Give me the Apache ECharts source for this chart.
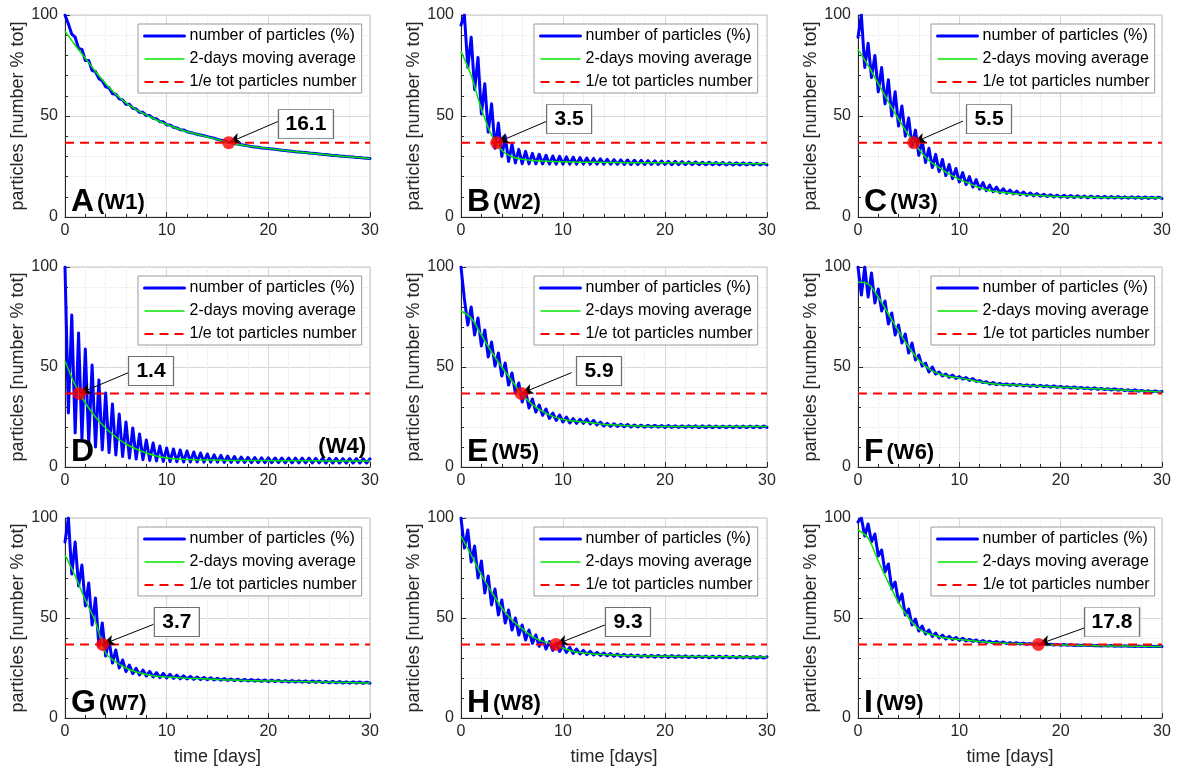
<!DOCTYPE html>
<html><head><meta charset="utf-8">
<script src="https://cdn.jsdelivr.net/npm/echarts@6/dist/echarts.min.js"></script>
<style>html,body{margin:0;padding:0;background:#fff}#c{width:1177px;height:771px}</style>
</head><body><div id="c"></div>
<script>
// ---------------- DATA ----------------
const seriesNames = ['number of particles (%)', '2-days moving average', '1/e tot particles number'];
const panelLetters = ['A','B','C','D','E','F','G','H','I'];
const wellLabels = ['(W1)','(W2)','(W3)','(W4)','(W5)','(W6)','(W7)','(W8)','(W9)'];
const eFoldingDay = [16.1, 3.5, 5.5, 1.4, 5.9, null, 3.7, 9.3, 17.8];
const oneOverE = [36.79];
const xTicks = [0, 10, 20, 30];
const yTicks = [0, 50, 100];

// number of particles (%), sampled every 1/3 day from day 0 to day 30 (one row per day)
const blueA = [
100,95.5,90.5, 89,83.5,83, 77.5,77.5,72.5, 72,68.5,67.5, 64.5,64,61, 60.8,58.5,58,
55.8,55.8,53.8, 53.5,51.8,51.8, 50.2,50.2,48.8, 48.6,47.2,47.1, 45.6,45.6,44.4, 44.1,43.2,43.1,
42.2,41.8,41.4, 41,40.6,40.2, 39.8,39.4,39, 38.4,38,37.6, 37.1,36.8,36.4, 36.1,35.8,35.5,
35.2,34.9,34.7, 34.5,34.2,34, 33.9,33.7,33.5, 33.3,33.1,32.9, 32.7,32.5,32.3, 32.2,32,31.9,
31.7,31.5,31.4, 31.2,31,30.9, 30.7,30.5,30.4, 30.2,30.1,29.9, 29.8,29.7,29.5, 29.4,29.2,29.1, 29];
const blueB = [
95,100,74, 89,63,79, 51,66,42, 56,34,46.5, 30,40,27.5, 36,26.8,33.5,
26.4,32.5,26.3, 31.5,26.3,31, 26.3,30.5,26.2, 30.2,26.2,30, 26.2,29.8,26.2, 29.6,26.2,29.4,
26.2,29.2,26.1, 29,26.1,28.8, 26.1,28.6,26.1, 28.4,26.1,28.3, 26,28.2,26, 28.1,26,28,
26,27.9,26, 27.8,26,27.7, 26,27.6,25.9, 27.5,25.9,27.4, 25.9,27.3,25.9, 27.2,25.9,27.1,
25.9,27.1,25.9, 27,25.8,27, 25.8,26.9,25.8, 26.8,25.8,26.8, 25.8,26.7,25.8, 26.6,25.8,26.6, 25.8];
const blueC = [
89,100,74, 86,69,80, 62,74,56, 68,50,62, 45,55,40, 49,35,43,
30.5,38,27, 34,24.5,31, 22.5,28.5,20.5, 26,19,24, 17.3,22,16, 20,14.8,18.5,
13.8,17,13, 15.8,12.5,14.8, 12,14,11.7, 13.3,11.4,12.8, 11,12.4,10.7, 11.9,10.5,11.6,
10.3,11.3,10.1, 11,9.9,10.8, 9.8,10.7,9.7, 10.6,9.6,10.5, 9.6,10.4,9.5, 10.3,9.5,10.2,
9.4,10.2,9.4, 10.1,9.4,10.1, 9.3,10,9.3, 10,9.3,9.9, 9.2,9.9,9.2, 9.8,9.2,9.8, 9.2];
const blueD = [
100,27,76, 17,67,14, 59,12,51, 10,43.5,8.5, 37,7.2,31.5, 6,26.5,5.2,
22.5,4.5,19.5, 4,16.5,3.6, 13.5,3.3,12, 3,10.5,2.8, 9.5,2.7,9, 2.6,8.5,2.5,
8,2.5,7.5, 2.5,7,2.4, 6.5,2.4,6.1, 2.4,5.8,2.3, 5.5,2.3,5.2, 2.3,5,2.3,
4.8,2.2,4.7, 2.2,4.6,2.2, 4.6,2.2,4.5, 2.2,4.5,2.1, 4.5,2.1,4.4, 2.1,4.4,2.1,
4.4,2.1,4.3, 2.1,4.3,2, 4.3,2,4.3, 2,4.2,2, 4.2,2,4.2, 2,4.1,2, 4.1];
const blueE = [
100,84,71, 80,66,74.5, 60.5,68.5,55, 62.5,50.5,57, 45.5,52,41, 47,37,42,
32.5,38,29.5, 34,27.5,31, 25.8,29,24.3, 27,23.3,26, 22.5,25,22, 24.2,21.8,23.8,
21.8,24,21.5, 23.3,21,22.5, 20.5,21.8,20.3, 21.6,20.3,21.4, 20.1,21.2,20, 21,20,20.9,
19.9,20.8,19.9, 20.8,19.9,20.7, 19.8,20.7,19.8, 20.6,19.8,20.6, 19.8,20.6,19.8, 20.6,19.7,20.6,
19.7,20.6,19.7, 20.5,19.7,20.5, 19.7,20.5,19.7, 20.5,19.7,20.5, 19.7,20.5,19.7, 20.5,19.7,20.5, 19.8];
const blueF = [
100,86,100, 85,97,82, 89,78,83, 71.5,77,66, 71,62,66.5, 57,62,53.5,
56,50.5,52, 47.5,50,46.5, 47.5,45.5,46.5, 44.8,46,44.3, 45.2,44,44.7, 43.3,44.2,42.8,
43.2,42.2,42.6, 41.5,42.2,41.2, 41.8,41,41.5, 40.8,41.5,40.7, 41.3,40.5,41.1, 40.3,41,40.2,
40.8,40.1,40.6, 39.9,40.6,39.8, 40.3,39.6,40.1, 39.4,40,39.3, 39.8,39.2,39.6, 38.9,39.6,38.8,
39.3,38.7,39.1, 38.5,39.1,38.4, 38.8,38.2,38.6, 38,38.6,37.9, 38.3,37.7,38.1, 37.5,38.1,37.4, 37.7];
const blueG = [
88,100,72, 88,66,76.5, 56,67.5,46.5, 60,36,47.5, 31,39,27.5, 34,25,29,
23.2,26.5,22.2, 24.8,21.5,24, 21,23.3,20.5, 22.7,20.2,22.3, 20,21.8,19.8, 21.4,19.6,21.1,
19.5,20.8,19.3, 20.5,19.2,20.3, 19.1,20.1,19, 19.9,18.9,19.7, 18.8,19.5,18.7, 19.4,18.6,19.3,
18.5,19.2,18.4, 19.1,18.3,19, 18.2,18.9,18.2, 18.8,18.1,18.7, 18,18.7,18, 18.6,17.9,18.5,
17.8,18.5,17.8, 18.4,17.7,18.3, 17.6,18.3,17.6, 18.2,17.5,18.1, 17.4,18.1,17.4, 18,17.3,17.9, 17.4];
const blueH = [
100,85,94, 78,86,70, 78.5,62.5,71, 56.5,64.5,51.5, 59,47.5,54, 44,50,41.5,
46.5,39,44, 37.3,41.5,35.8, 39.8,34.5,38.2, 33.8,37.5,33.3, 36.3,32.8,35.3, 32.3,34.5,32,
33.8,31.7,33.3, 31.5,32.8,31.3, 32.5,31.1,32.2, 30.9,32,30.8, 31.8,30.7,31.6, 30.6,31.5,30.5,
31.4,30.5,31.3, 30.4,31.3,30.4, 31.2,30.3,31.2, 30.3,31.1,30.3, 31.1,30.2,31, 30.2,31,30.2,
31,30.1,30.9, 30.1,30.9,30.1, 30.9,30.1,30.8, 30,30.8,30, 30.8,30,30.7, 30,30.7,30, 30.6];
const blueI = [
98,100,91, 97,88,92, 81,84,73, 77,64.5,68, 58,62,51.5, 54.5,46.5,49.5,
43.5,46,42, 44,40.8,42.5, 40,41.5,39.5, 40.8,39.2,40.3, 38.8,39.9,38.5, 39.3,38.3,39,
37.9,38.7,37.7, 38.4,37.5,38.2, 37.3,38,37.2, 37.7,37.1,37.6, 37,37.4,36.9, 37.2,36.8,37.1,
36.6,37,36.6, 36.9,36.5,36.8, 36.4,36.7,36.4, 36.6,36.3,36.5, 36.2,36.5,36.2, 36.4,36.1,36.3,
36,36.3,36, 36.2,35.9,36.1, 35.9,36.1,35.9, 36,35.8,36, 35.8,36,35.8, 35.9,35.7,35.9, 35.7];

// 2-days moving average, one value per day (day 0 .. 30)
const greenA = [92,85,78.6,72,66,60.8,56.5,53.2,50.5,48,45.8,43.9,42.2,41,39.6,38.3,37,36,35.2,34.5,33.9,33.3,32.7,32.2,31.7,31.2,30.7,30.2,29.8,29.4,29];
const greenB = [82,70,53.5,40.5,33,29.8,28.6,28,27.7,27.5,27.3,27.2,27.1,27.1,27,27,26.9,26.9,26.9,26.8,26.8,26.8,26.7,26.7,26.6,26.6,26.5,26.5,26.4,26.4,26.3];
const greenC = [83,75,66,57,48.5,40.5,33.5,28,24.5,21.2,18.6,16.5,14.5,13,12.3,11.8,11.3,10.9,10.6,10.3,10.1,10,9.9,9.8,9.7,9.7,9.6,9.6,9.5,9.5,9.4];
const greenD = [53,41,32,25,19.5,15,11.5,9,7,5.5,4.5,4,3.8,3.6,3.5,3.4,3.3,3.3,3.2,3.2,3.2,3.1,3.1,3.1,3.1,3.1,3,3,3,3,3];
const greenE = [78,74.5,66,57.5,50,43,36.2,31.2,27.8,25.3,23.8,23,22.5,22,21.3,21,20.7,20.5,20.4,20.3,20.3,20.3,20.2,20.2,20.2,20.2,20.2,20.2,20.2,20.2,20.2];
const greenF = [92.5,91.5,85,76.5,68,60,53.5,49,46.5,45.3,44.5,43.6,42.6,41.8,41.3,41.1,40.9,40.6,40.4,40.2,39.9,39.7,39.4,39.2,39,38.7,38.5,38.2,38,37.8,37.5];
const greenG = [81.5,71,59,48,32.5,28,25,23,21.8,20.9,20.5,20.2,19.9,19.7,19.5,19.3,19,18.9,18.7,18.6,18.5,18.4,18.3,18.2,18.1,18,17.9,17.8,17.7,17.6,17.5];
const greenH = [91,81.5,71.5,63,55,49,44.6,40.7,38.3,37.2,35,33.3,32.5,32,31.7,31.5,31.2,31.1,31,30.9,30.9,30.8,30.8,30.7,30.7,30.6,30.6,30.6,30.5,30.5,30.5];
const greenI = [94,90,78.5,67.7,57.8,50,44.5,42.1,40.6,39.8,39.2,38.7,38.2,37.8,37.5,37.3,37.1,36.9,36.7,36.6,36.5,36.4,36.3,36.2,36.1,36,36,35.9,35.9,35.8,35.8];

// ---------------- LAYOUT / STYLE ----------------
const blues = [blueA,blueB,blueC,blueD,blueE,blueF,blueG,blueH,blueI];
const greens = [greenA,greenB,greenC,greenD,greenE,greenF,greenG,greenH,greenI];
const colLeft = [65, 461, 858], colW = [305, 306, 304];
const rowTop = [15, 267, 518], rowH = [202, 200, 200];
// annotation text box centre and arrow tail (axis units)
const boxAt = [[23.7,46],[10.6,48.5],[12.93,48.5],[8.46,48],[13.53,48],null,[11.0,48],[16.37,48],[25.07,48]];
const tailAt = [[21.05,47.5],[8.4,47.4],[10.36,47.5],[6.39,47.5],[10.85,47.2],null,[8.7,46.8],[14.1,46.5],[22.6,45.5]];
const FONT = '"Liberation Sans", Arial, Helvetica, sans-serif';
const AX = '#262626';

const grids=[], xAxes=[], yAxes=[], series=[], legends=[], graphics=[];
for (let i=0;i<9;i++){
  const r = Math.floor(i/3), c = i%3;
  const gl = colLeft[c], gt = rowTop[r], gw = colW[c], gh = rowH[r];
  grids.push({left:gl, top:gt, width:gw, height:gh, show:true, borderColor:'#c4c4c4', borderWidth:1, backgroundColor:'#fff', containLabel:false});
  xAxes.push({type:'value', gridIndex:i, min:xTicks[0], max:xTicks[xTicks.length-1], interval:10,
    name: r===2 ? 'time [days]' : '', nameLocation:'middle', nameGap:30,
    nameTextStyle:{fontSize:18, color:AX, fontFamily:FONT},
    axisLine:{show:true, onZero:false, lineStyle:{color:AX, width:1}},
    axisTick:{show:true, inside:true, length:5, lineStyle:{color:AX}},
    minorTick:{show:true, splitNumber:5, length:3, lineStyle:{color:AX}},
    axisLabel:{fontSize:16, color:AX, margin:6, fontFamily:FONT},
    splitLine:{show:true, lineStyle:{color:'#d8d8d8', width:1}},
    minorSplitLine:{show:true, lineStyle:{color:'#e6e6e6', width:1, type:'dotted'}}});
  yAxes.push({type:'value', gridIndex:i, min:yTicks[0], max:yTicks[yTicks.length-1], interval:50,
    name:'particles [number % tot]', nameLocation:'middle', nameGap:33,
    nameTextStyle:{fontSize:18, color:AX, fontFamily:FONT},
    axisLine:{show:true, onZero:false, lineStyle:{color:AX, width:1}},
    axisTick:{show:true, inside:true, length:5, lineStyle:{color:AX}},
    minorTick:{show:true, splitNumber:5, length:3, lineStyle:{color:AX}},
    axisLabel:{fontSize:16, color:AX, margin:7, fontFamily:FONT},
    splitLine:{show:true, lineStyle:{color:'#d8d8d8', width:1}},
    minorSplitLine:{show:true, lineStyle:{color:'#e6e6e6', width:1, type:'dotted'}}});

  const b = blues[i], g = greens[i];
  const bStep = 30/(b.length-1), gStep = 30/(g.length-1);
  series.push({name:seriesNames[0], type:'line', xAxisIndex:i, yAxisIndex:i,
    data:b.map((v,k)=>[k*bStep, v]), symbol:'none', showSymbol:false, z:2, silent:true,
    lineStyle:{color:'#0000ff', width:3, join:'round', cap:'round'}, itemStyle:{color:'#0000ff'}});
  series.push({name:seriesNames[1], type:'line', xAxisIndex:i, yAxisIndex:i,
    data:g.map((v,k)=>[k*gStep, v]), symbol:'none', showSymbol:false, smooth:0.3, z:3, silent:true,
    lineStyle:{color:'#00e600', width:1.5}, itemStyle:{color:'#00e600'}});
  series.push({name:seriesNames[2], type:'line', xAxisIndex:i, yAxisIndex:i,
    data:[[xTicks[0], oneOverE[0]],[xTicks[xTicks.length-1], oneOverE[0]]], symbol:'none', showSymbol:false, z:4, silent:true,
    lineStyle:{color:'#ff0000', width:2, type:[9,6]}, itemStyle:{color:'#ff0000'}});
  const xe = eFoldingDay[i];
  if (xe !== null) {
    series.push({type:'scatter', xAxisIndex:i, yAxisIndex:i, data:[[xe, oneOverE[0]]], symbolSize:13, z:5, silent:true,
      itemStyle:{color:'#ff0000'}});
    const txt = String(xe);
    series.push({type:'line', xAxisIndex:i, yAxisIndex:i, data:[[xe, oneOverE[0]]], symbol:'none', showSymbol:false, z:6, silent:true,
      lineStyle:{opacity:0},
      markLine:{silent:true, symbol:['none','arrow'], symbolSize:[8,12], animation:false,
        lineStyle:{color:'#000', width:1, type:'solid'}, label:{show:false}, emphasis:{disabled:true},
        data:[[{coord:tailAt[i]},{coord:[xe, oneOverE[0]]}]]},
      markPoint:{silent:true, symbol:'rect', symbolSize:[txt.length>3?55:45, 29], animation:false,
        itemStyle:{color:'#fff', borderColor:'#707070', borderWidth:1},
        label:{show:true, position:'inside', formatter:txt, fontSize:21, fontWeight:'bold', color:'#000', fontFamily:FONT},
        emphasis:{disabled:true},
        data:[{coord:boxAt[i]}]}});
  }
  legends.push({left:gl+73, top:gt+9, orient:'vertical', z:20, selectedMode:false,
    itemWidth:40, itemHeight:14, itemGap:7, itemTextGap:5, padding:[4,5,3,5],
    backgroundColor:'#fff', borderColor:'#9a9a9a', borderWidth:1, borderRadius:0,
    textStyle:{fontSize:16, color:'#000', fontFamily:FONT},
    itemStyle:{opacity:0, borderWidth:0},
    data:[{name:seriesNames[0], itemStyle:{opacity:0, borderWidth:0}, lineStyle:{width:3}},
          {name:seriesNames[1], itemStyle:{opacity:0, borderWidth:0}, lineStyle:{width:1.5}},
          {name:seriesNames[2], itemStyle:{opacity:0, borderWidth:0}, lineStyle:{width:2, type:[9,6]}}]});

  const gb = gt + gh;
  if (i === 3) {
    graphics.push({type:'text', x:gl+6, y:gb+1, z:30, style:{text:panelLetters[i], font:'bold 32px '+FONT, fill:'#000', align:'left', verticalAlign:'bottom'}});
    graphics.push({type:'text', x:gl+gw-4, y:gb-9, z:30, style:{text:wellLabels[i], font:'bold 22px '+FONT, fill:'#000', align:'right', verticalAlign:'bottom'}});
  } else {
    graphics.push({type:'text', x:gl+6, y:gb+1, z:30, style:{
      text:'{l|'+panelLetters[i]+'}{w|'+wellLabels[i]+'}', align:'left', verticalAlign:'bottom',
      rich:{l:{fontSize:32, fontWeight:'bold', fontFamily:FONT, color:'#000', lineHeight:32, verticalAlign:'bottom'},
            w:{fontSize:22, fontWeight:'bold', fontFamily:FONT, color:'#000', lineHeight:26, verticalAlign:'bottom', padding:[0,0,4,3]}}}});
  }
}

const chart = echarts.init(document.getElementById('c'), null, {renderer:'canvas'});
chart.setOption({animation:false, backgroundColor:'#fff', grid:grids, xAxis:xAxes, yAxis:yAxes, series:series, legend:legends, graphic:graphics});
</script></body></html>
